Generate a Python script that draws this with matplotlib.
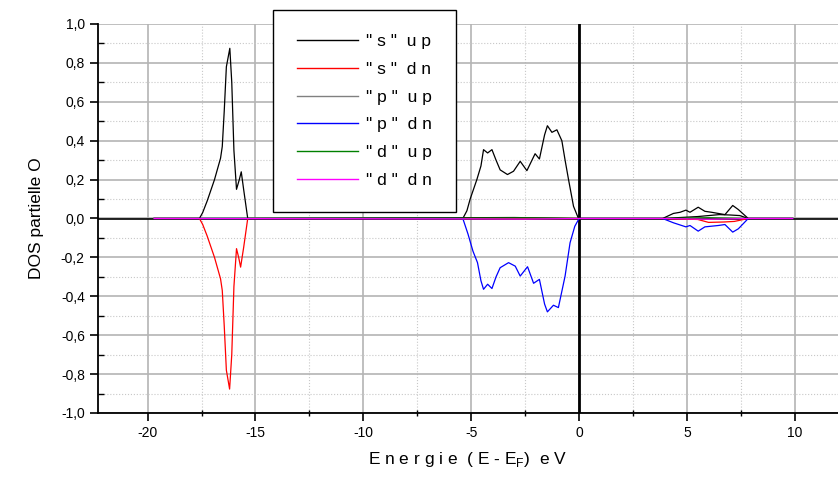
import matplotlib
matplotlib.use("Agg")
import matplotlib.pyplot as plt
from matplotlib.ticker import MultipleLocator, FuncFormatter

plt.rcParams['font.family'] = ['Liberation Sans', 'DejaVu Sans']

# ---- data (energy in eV, DOS) ----
s_up_E = [-19.7, -17.6, -17.45, -17.24, -16.9, -16.62, -16.54, -16.45, -16.35, -16.19, -16.1, -16.0, -15.88, -15.75, -15.66, -15.55, -15.36, -3.0, 0.0, 3.87, 5.5, 6.5, 7.0, 7.45, 7.84, 9.9]
s_up   = [0.0, 0.0, 0.03, 0.09, 0.2, 0.31, 0.37, 0.55, 0.78, 0.875, 0.7, 0.35, 0.15, 0.2, 0.24, 0.15, 0.0, 0.005, 0.0, 0.0, 0.01, 0.02, 0.018, 0.015, 0.0, 0.0]

s_dn_E = [-19.7, -17.6, -17.45, -17.24, -16.9, -16.62, -16.54, -16.45, -16.35, -16.2, -16.1, -16.0, -15.88, -15.78, -15.69, -15.55, -15.36, 3.87, 5.5, 6.0, 6.7, 7.2, 7.84, 9.9]
s_dn   = [0.0, 0.0, -0.03, -0.09, -0.2, -0.31, -0.37, -0.55, -0.78, -0.877, -0.7, -0.35, -0.155, -0.2, -0.25, -0.15, 0.0, 0.0, -0.005, -0.02, -0.018, -0.015, 0.0, 0.0]

p_up_E = [-19.7, -5.39, -5.2, -5.05, -4.74, -4.55, -4.43, -4.24, -4.04, -3.85, -3.66, -3.32, -3.04, -2.73, -2.42, -2.04, -1.84, -1.6, -1.47, -1.26, -1.03, -0.80, -0.65, -0.49, -0.26, -0.03,
          3.87, 4.37, 4.68, 4.95, 5.14, 5.52, 5.83, 6.14, 6.45, 6.76, 7.12, 7.38, 7.84, 9.9]
p_up   = [0.0, 0.0, 0.04, 0.10, 0.20, 0.27, 0.354, 0.337, 0.354, 0.30, 0.25, 0.226, 0.243, 0.294, 0.246, 0.333, 0.306, 0.43, 0.477, 0.443, 0.456, 0.40, 0.30, 0.20, 0.063, 0.0,
          0.0, 0.026, 0.032, 0.043, 0.032, 0.058, 0.037, 0.032, 0.026, 0.02, 0.067, 0.046, 0.0, 0.0]

p_dn_E = [-19.7, -5.39, -5.15, -4.92, -4.71, -4.55, -4.43, -4.24, -4.04, -3.85, -3.66, -3.27, -2.96, -2.73, -2.39, -2.11, -1.84, -1.6, -1.47, -1.19, -0.96, -0.65, -0.42, -0.2, 0.0,
          3.87, 4.37, 4.95, 5.14, 5.52, 5.83, 6.45, 6.76, 7.12, 7.38, 7.84, 9.9]
p_dn   = [0.0, 0.0, -0.08, -0.168, -0.227, -0.32, -0.364, -0.338, -0.36, -0.30, -0.253, -0.227, -0.245, -0.296, -0.248, -0.333, -0.313, -0.44, -0.48, -0.446, -0.458, -0.296, -0.125, -0.04, 0.0,
          0.0, -0.022, -0.043, -0.036, -0.065, -0.043, -0.036, -0.031, -0.070, -0.053, 0.0, 0.0]

d_up_E = [-19.7, -5.0, -2.5, 0.0, 3.87, 6.0, 7.84, 9.9]
d_up   = [0.0, 0.002, 0.003, 0.0, 0.0, 0.004, 0.0, 0.0]

d_dn_E = [-19.7, -5.0, -2.5, 0.0, 3.87, 6.0, 7.84, 9.9]
d_dn   = [0.0, -0.002, -0.003, 0.0, 0.0, -0.004, 0.0, 0.0]

labels = ['" s "  u p', '" s "  d n', '" p "  u p', '" p "  d n', '" d "  u p', '" d "  d n']
colors = ['black', 'red', 'black', 'blue', 'green', 'magenta']
legend_colors = ['black', 'red', 'gray', 'blue', 'green', 'magenta']

xticks = [-20, -15, -10, -5, 0, 5, 10]

fig = plt.figure(figsize=(8.38, 4.79), dpi=100)
ax = fig.add_axes([98/838, 1-413/479, 1-98/838, (413-24)/479])

ax.set_xlim(-22.3, 12.0)
ax.set_ylim(-1.0, 1.0)

ax.xaxis.set_major_locator(MultipleLocator(5))
ax.xaxis.set_minor_locator(MultipleLocator(2.5))
ax.yaxis.set_major_locator(MultipleLocator(0.2))
ax.yaxis.set_minor_locator(MultipleLocator(0.1))

ax.grid(which='major', color='#b4b4b4', linewidth=1.2, linestyle='-')
ax.grid(which='minor', color='#c8c8c8', linewidth=0.8, linestyle=':')
ax.set_axisbelow(True)

ax.axhline(0, color='black', lw=1.2, zorder=1.5)
ax.axvline(0, color='black', lw=2.0, zorder=1.5)

series = [(s_up_E, s_up), (s_dn_E, s_dn), (p_up_E, p_up), (p_dn_E, p_dn), (d_up_E, d_up), (d_dn_E, d_dn)]
handles = []
for (E, D), c, lc, lab in zip(series, colors, legend_colors, labels):
    ax.plot(E, D, color=c, lw=0.9, zorder=3)
    h, = ax.plot([], [], color=lc, lw=1.0, label=lab)
    handles.append(h)

ax.spines['top'].set_visible(False)
ax.spines['right'].set_visible(False)
ax.spines['left'].set_linewidth(1.3)
ax.spines['bottom'].set_linewidth(1.3)

ax.tick_params(which='major', direction='out', length=6, width=1.2, labelsize=10)
ax.tick_params(axis='x', which='minor', direction='inout', length=5, width=1.0)
ax.tick_params(axis='y', which='minor', direction='in', length=4, width=1.0)
ax.yaxis.set_major_formatter(FuncFormatter(lambda v, p: ('%.1f' % v).replace('.', ',').replace('-0,0', '0,0')))
ax.set_xticks(xticks)
ax.set_xticklabels([str(t) for t in xticks])

ax.set_ylabel('DOS partielle O', fontsize=12.5, labelpad=12)
ax.set_xlabel('E n e r g i e  ( E - E$_\\mathregular{F}$)  e V', fontsize=12.5, labelpad=7)

leg = fig.legend(handles=handles, loc='upper left', bbox_to_anchor=(273/838, 1-10/479),
                 bbox_transform=fig.transFigure, frameon=True, fancybox=False,
                 edgecolor='black', fontsize=12.5, handlelength=3.5, handletextpad=0.45,
                 labelspacing=0.72, borderpad=1.4, borderaxespad=0)
leg.get_frame().set_linewidth(1.0)
leg.get_frame().set_alpha(1.0)

fig.savefig('out.png', dpi=100)
